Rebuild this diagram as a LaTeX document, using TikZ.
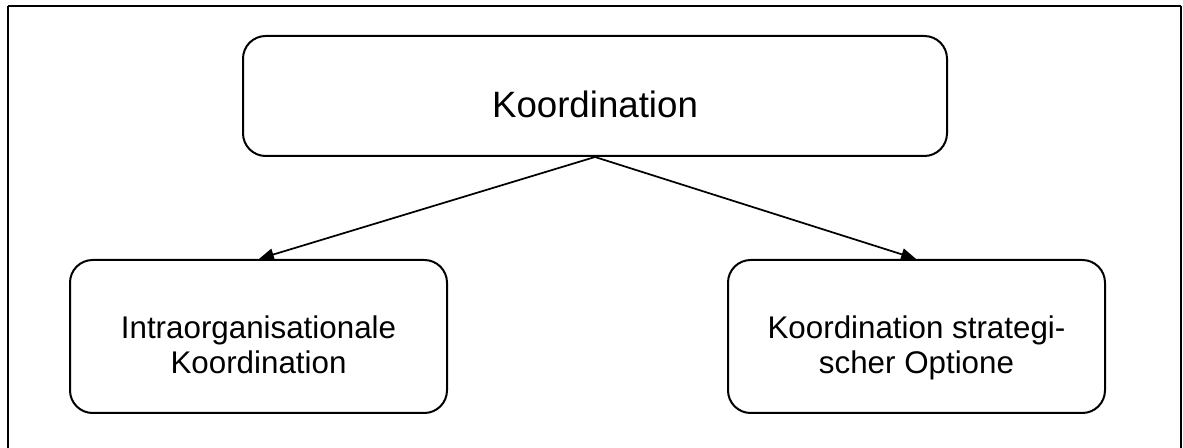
\documentclass[tikz,border=0pt]{standalone}
\usepackage{fontspec}
\setmainfont{Liberation Sans}
\usetikzlibrary{arrows.meta}

\begin{document}
\begin{tikzpicture}[x=0.75pt,y=-0.75pt,
  box/.style={draw, line width=1.5pt, rounded corners=17pt, minimum width=#1, inner sep=0pt},
  lbl/.style={anchor=base, align=center, inner sep=0pt},
  arr/.style={line width=1.3pt, -{Triangle[length=11pt,width=9pt]}, shorten >=0.5pt},
  frameline/.style={line width=1.4pt}]
  \useasboundingbox (0,0) rectangle (1183,448);

  % open frame (no bottom edge)
  \coordinate (fbl) at (8,452);
  \coordinate (ftl) at (8,6);
  \coordinate (ftr) at (1181,6);
  \coordinate (fbr) at (1181,452);
  \draw[frameline] (fbl) -- (ftl);
  \draw[line width=2.2pt] (ftl) -- (ftr);
  \draw[frameline] (ftr) -- (fbr);

  % boxes
  \node[box=704*0.75pt, minimum height=120*0.75pt] (top) at (595,96) {};
  \node[box=377*0.75pt, minimum height=153*0.75pt] (lbox) at (258.5,336.5) {};
  \node[box=377*0.75pt, minimum height=153*0.75pt] (rbox) at (916.5,336.5) {};

  % labels (base = baseline of the last line)
  \node[lbl, font=\fontsize{27.5pt}{33pt}\selectfont] (toplbl) at (595,118) {Koordination};
  \node[lbl, font=\fontsize{23.5pt}{26.25pt}\selectfont] (llbl) at (258.5,374) {Intraorganisationale\\Koordination};
  \node[lbl, font=\fontsize{23.5pt}{26.25pt}\selectfont] (rlbl) at (916.5,374) {Koordination strategi-\\scher Optione};

  % connectors
  \draw[arr] (top.south) -- (lbox.north);
  \draw[arr] (top.south) -- (rbox.north);
\end{tikzpicture}
\end{document}
